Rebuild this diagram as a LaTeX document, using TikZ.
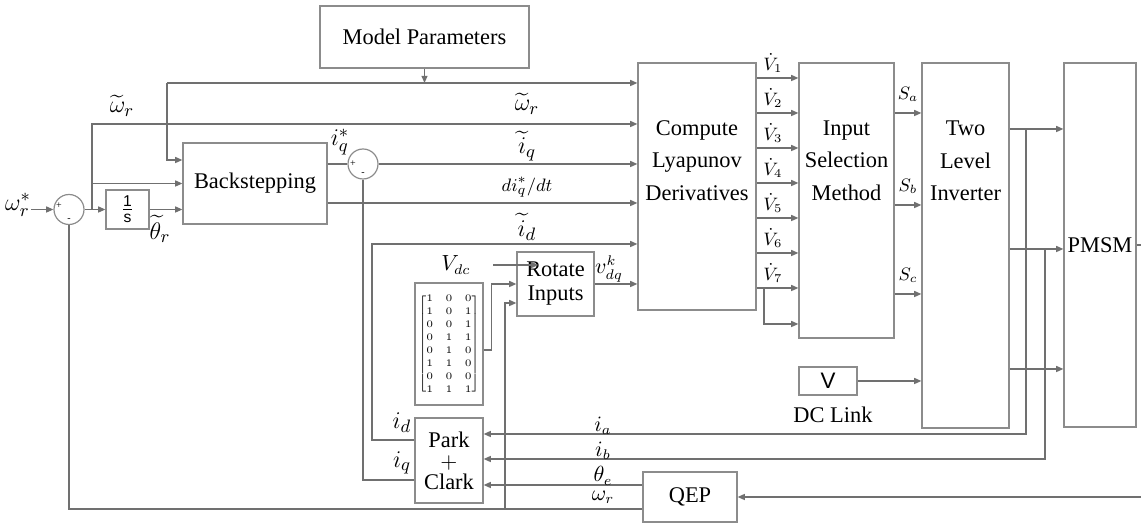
\documentclass[tikz,border=0pt]{standalone}
\usepackage{amsmath}
\usepackage{fontspec}
\setmainfont{Liberation Serif}
\setsansfont{Liberation Sans}
\usepackage{tikz}
\usetikzlibrary{arrows.meta, positioning, calc}
\definecolor{wgray}{HTML}{707070}
\definecolor{bgray}{HTML}{8C8C8C}

\begin{document}
\begin{tikzpicture}[x=0.5pt, y=-0.5pt,
  box/.style={draw=bgray, line width=0.6pt, inner sep=0pt, align=center, font=\fontsize{11.2}{16.25}\selectfont},
  txt/.style={inner sep=0pt, align=center, font=\fontsize{11.2}{16.25}\selectfont},
  sumc/.style={draw=bgray, line width=0.6pt, circle, minimum size=15pt, inner sep=0pt},
  wire/.style={draw=wgray, line width=0.65pt},
  sig/.style={wire, -{Triangle[length=3.6pt, width=3pt]}},
  lbl/.style={inner sep=0pt, font=\fontsize{13}{15}\selectfont},
  slbl/.style={inner sep=0pt, font=\fontsize{10.5}{12}\selectfont},
  vlbl/.style={inner sep=0pt, font=\fontsize{9}{10}\selectfont},
  sgn/.style={inner sep=0pt, font=\fontsize{5}{6}\selectfont}]

  \useasboundingbox (0,0) rectangle (1141,523);

  %% blocks
  \node[box, minimum width=104.5pt, minimum height=31pt] (mp) at (424.5,37) {Model Parameters};
  \node[box, minimum width=72pt, minimum height=40.5pt] (bs) at (255,183.5) {Backstepping};
  \node[box, minimum width=21.5pt, minimum height=19.5pt] (integ) at (127.5,209.5) {$\frac{\mathsf{1}}{\mathsf{s}}$};
  \node[box, minimum width=59pt, minimum height=123.5pt] (lyap) at (697,186.5) {};
  \node[box, minimum width=47.5pt, minimum height=137.5pt] (isel) at (846.5,200.5) {};
  \node[box, minimum width=43.5pt, minimum height=182.5pt] (inv) at (965.5,245.5) {};
  \node[box, minimum width=36pt, minimum height=182pt] (pmsm) at (1100,245) {PMSM};
  \node[box, minimum width=38.5pt, minimum height=32pt] (rot) at (555.5,284) {Rotate\\[-4.25pt]Inputs};
  \node[box, minimum width=34pt, minimum height=61pt] (mat) at (449,344)
    {\fontsize{5}{6.5}\selectfont\arraycolsep=3.1pt$\left[\begin{array}{@{}ccc@{}}1&0&0\\1&0&1\\0&0&1\\0&1&1\\0&1&0\\1&1&0\\0&0&0\\1&1&1\end{array}\right]$};
  \node[box, minimum width=34pt, minimum height=42.5pt] (park) at (449,460.5) {Park\\[-5.75pt]$+$\\[-5.75pt]Clark};
  \node[box, minimum width=47pt, minimum height=25pt] (qep) at (690,497) {QEP};
  \node[box, minimum width=29pt, minimum height=14pt] (vdc) at (828,381) {\sffamily V};
  \node[txt] (dcl) at (833,415) {DC Link};

  \node[txt] (lyaptxt) at (697,160.5) {Compute\\Lyapunov\\Derivatives};
  \node[txt] (iseltxt) at (846.5,160.5) {Input\\Selection\\Method};
  \node[txt] (invtxt) at (965.5,161) {Two\\Level\\Inverter};

  %% summing junctions
  \node[sumc] (sum1) at (69,209.5) {};
  \node[sgn] (p1) at (59,206) {+};
  \node[sgn] (m1) at (69,220) {-};
  \node[sumc] (sum2) at (363,164) {};
  \node[sgn] (p2) at (353,164) {+};
  \node[sgn] (m2) at (363,174) {-};

  \coordinate (j1) at (92,209.5);
  \coordinate (tl) at (167,83);
  \coordinate (idc) at (372,244);
  \coordinate (jw) at (505,509);
  \coordinate (enc) at (1141,497);
  \coordinate (v7b) at (764,288);
  \coordinate (ta) at (1026,129);
  \coordinate (tb) at (1045,249);

  %% speed loop
  \node[lbl] (wref) at (18,205) {$\omega_r^*$};
  \draw[sig] (wref.east |- sum1) -- (sum1.west);
  \draw[sig] (sum1.east) -- (integ.west);
  \draw[sig] (j1) |- (lyap.west |- 0,124);
  \draw[sig] (j1 |- bs.west) -- (bs.west);
  \draw[sig] (integ.east) -- (integ.east -| bs.west);
  \draw[sig] (tl) -- (tl -| lyap.west);
  \draw[sig] (tl) |- (bs.west |- 0,160);
  \draw[sig] (mp.south) -- (mp.south |- tl);

  %% current loop
  \draw[wire] ([yshift=9.75pt]bs.east) -- (sum2.west);
  \draw[sig] (sum2.east) -- (sum2.east -| lyap.west);
  \draw[sig] ([yshift=-9.75pt]bs.east) -- ([yshift=-9.75pt]bs.east -| lyap.west);
  \draw[sig] ([yshift=10.25pt]park.west) -| (idc) -- (idc -| lyap.west);
  \draw[wire] ([yshift=-9.75pt]park.west) -| (sum2.south);

  %% rotate inputs
  \node[slbl] (vdclab) at (456,265) {$V_{dc}$};
  \draw[sig] ([xshift=11pt]vdclab.east) -- ([xshift=11pt]vdclab.east -| rot.west);
  \draw[sig] ([yshift=-3pt]mat.east) -- ++(4pt,0) |- (rot.west);
  \draw[sig] (jw) |- ([yshift=-9.5pt]rot.west);
  \draw[sig] (rot.east) -- (rot.east -| lyap.west);

  %% feedback
  \draw[wire] ([yshift=-6pt]qep.west) -| (sum1.south);
  \draw[sig] ([yshift=6pt]qep.west) -- ([yshift=6pt]qep.west -| park.east);
  \draw[sig] (enc) -- (qep.east);

  %% Lyapunov derivatives
  \foreach \k in {1,...,7}{
    \pgfmathsetmacro\yv{78+35*(\k-1)}
    \draw[sig] (lyap.east |- 0,\yv) -- (isel.west |- 0,\yv);
    \node[vlbl] (vd\k) at (773,\yv-15) {$\dot V_{\k}$};
  }
  \draw[sig] (v7b) |- (isel.west |- 0,324);

  %% switching states
  \foreach \y/\s in {113/a,205/b,294/c}{
    \draw[sig] (isel.east |- 0,\y) -- (inv.west |- 0,\y);
    \node[vlbl] (s\s) at (908,\y-19) {$S_{\s}$};
  }
  \draw[sig] (vdc.east) -- (vdc.east -| inv.west);

  %% inverter to machine
  \foreach \y in {129,249,369}{
    \draw[sig] (inv.east |- 0,\y) -- (pmsm.west |- 0,\y);
  }
  \draw[sig] (ta) |- (park.east |- 0,434);
  \draw[sig] (tb) |- (park.east |- 0,459);
  \draw[wire] (pmsm.east) -- ++(3pt,0);

  %% labels
  \node[lbl] (wtl1) at (122,106) {$\widetilde{\omega}_r$};
  \node[lbl] (wtl2) at (527,104) {$\widetilde{\omega}_r$};
  \node[lbl] (iql) at (527,146) {$\widetilde{i}_q$};
  \node[slbl, font=\fontsize{9.5}{11}\selectfont] (didt) at (527,187) {$di_q^*/dt$};
  \node[lbl] (idl) at (527,227) {$\widetilde{i}_d$};
  \node[lbl] (iqs) at (340,142) {$i_q^*$};
  \node[lbl] (thl) at (160,229) {$\widetilde{\theta}_r$};
  \node[slbl] (vdq) at (609,269) {$v_{dq}^k$};
  \node[lbl] (idp) at (402,423) {$i_d$};
  \node[lbl] (iqp) at (402,463) {$i_q$};
  \node[slbl] (ial) at (603,426) {$i_a$};
  \node[slbl] (ibl) at (603,451) {$i_b$};
  \node[slbl] (thel) at (603,476) {$\theta_e$};
  \node[slbl] (wrl) at (603,497) {$\omega_r$};

\end{tikzpicture}
\end{document}
